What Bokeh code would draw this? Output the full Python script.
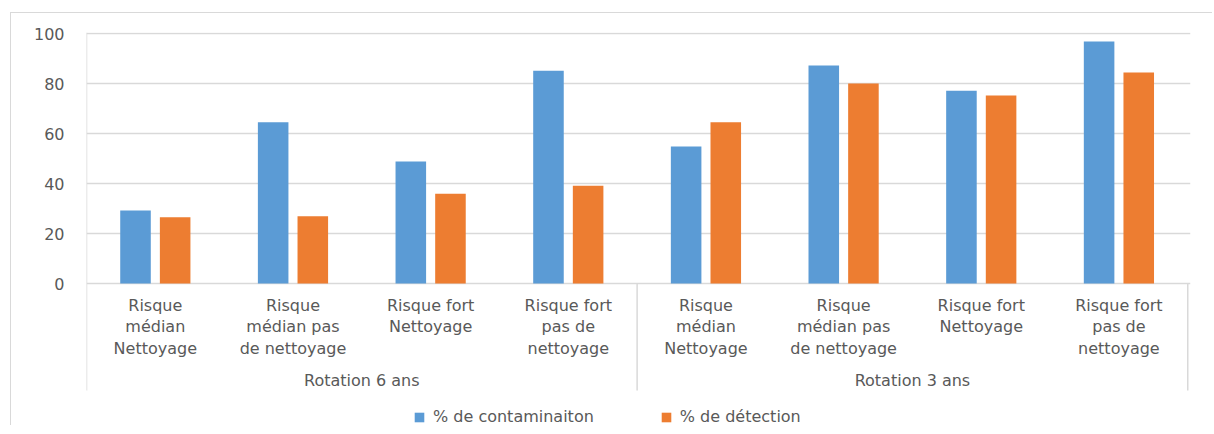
from bokeh.plotting import figure
from bokeh.models import Range1d, FixedTicker, Legend, LegendItem, ColumnDataSource
from bokeh.core.properties import value
from bokeh.embed import file_html
from bokeh.resources import INLINE

categories = ["Risque\nmédian\nNettoyage", "Risque\nmédian pas\nde nettoyage",
              "Risque fort\nNettoyage", "Risque fort\npas de\nnettoyage",
              "Risque\nmédian\nNettoyage", "Risque\nmédian pas\nde nettoyage",
              "Risque fort\nNettoyage", "Risque fort\npas de\nnettoyage"]
groups = ["Rotation 6 ans", "Rotation 3 ans"]
contamination = [29.2, 64.5, 48.8, 85.1, 54.8, 87.2, 77.1, 96.8]
detection = [26.5, 26.9, 35.9, 39.1, 64.5, 80.0, 75.2, 84.4]
series_names = ["% de contaminaiton", "% de détection"]
y_ticks = [0, 20, 40, 60, 80, 100]

BLUE = "#5B9BD5"
ORANGE = "#ED7D31"
GRID = "#D9D9D9"
TXT = "#595959"
FONT = "DejaVu Sans"

n = len(categories)
centers = [i + 0.5 for i in range(n)]

p = figure(width=1202, height=413, output_backend="svg", toolbar_location=None,
           x_range=Range1d(0, 8.02), y_range=Range1d(-57.2, 100.4),
           min_border_left=75, min_border_right=23, min_border_top=19, min_border_bottom=0)
p.styles = {"border-left": "1px solid #D9D9D9", "border-top": "1px solid #D9D9D9",
            "margin-left": "10px", "margin-top": "12px"}
p.outline_line_color = None
p.xaxis.visible = False
p.xgrid.visible = False
p.yaxis.ticker = FixedTicker(ticks=y_ticks)
p.ygrid.ticker = FixedTicker(ticks=y_ticks)
p.ygrid.grid_line_color = GRID
p.ygrid.grid_line_width = 1.5
p.yaxis.axis_line_color = None
p.yaxis.major_tick_line_color = None
p.yaxis.minor_tick_line_color = None
p.yaxis.major_tick_out = 0
p.yaxis.major_label_standoff = 22
p.yaxis.major_label_text_font = FONT
p.yaxis.major_label_text_font_size = "16px"
p.yaxis.major_label_text_color = TXT

src = ColumnDataSource(dict(
    xb=[c - 0.144 for c in centers], xo=[c + 0.144 for c in centers],
    cont=contamination, det=detection))
rb = p.vbar(x="xb", top="cont", width=0.222, source=src, fill_color=BLUE, line_color=None)
ro = p.vbar(x="xo", top="det", width=0.222, source=src, fill_color=ORANGE, line_color=None)

# axis structure lines
p.segment(x0=[0, 4, 8], y0=[100.4, 0, 0], x1=[0, 4, 8], y1=[-42.8, -42.8, -42.8],
          line_color=GRID, line_width=1.5)

# category labels
p.text(x=centers, y=[-5.0] * n, text=categories, text_align="center", text_baseline="top",
       text_font=value(FONT), text_font_size="16px", text_color=TXT, text_line_height=1.12)
p.text(x=[2, 6], y=[-35.0, -35.0], text=groups, text_align="center", text_baseline="top",
       text_font=value(FONT), text_font_size="16px", text_color=TXT)

legend = Legend(items=[LegendItem(label=series_names[0], renderers=[rb]),
                       LegendItem(label=series_names[1], renderers=[ro])],
                location=(327, 0), orientation="horizontal",
                glyph_width=12, glyph_height=12, label_standoff=8, spacing=66,
                padding=0, margin=0, border_line_color=None, background_fill_alpha=0,
                label_text_font=FONT, label_text_font_size="16px", label_text_color=TXT,
                label_height=18)
p.add_layout(legend)

open("out.html", "w").write(file_html(p, INLINE))
